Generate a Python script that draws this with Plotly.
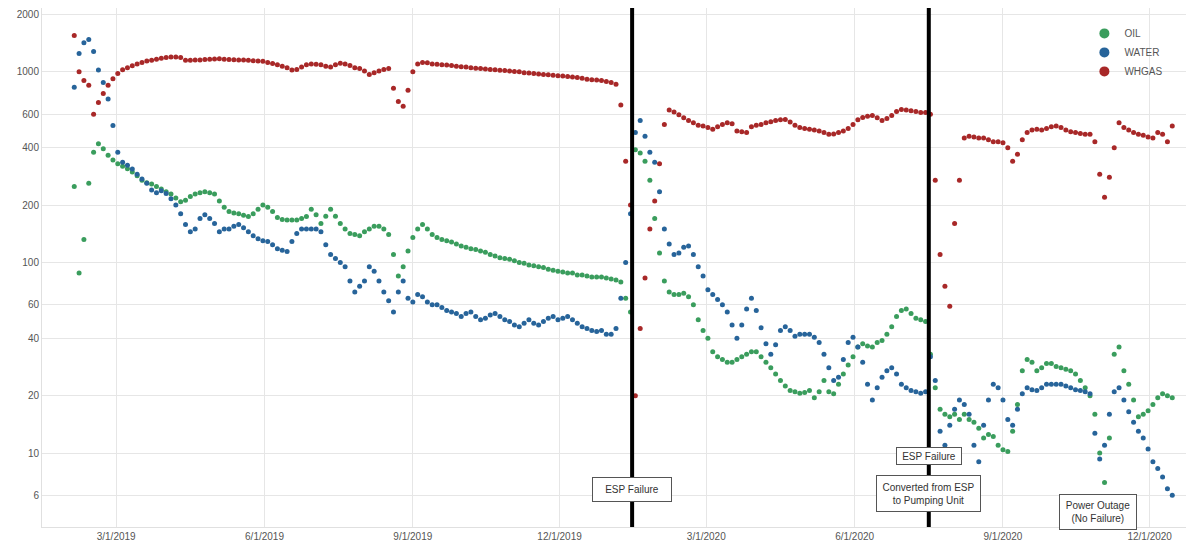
import pandas as pd
import plotly.graph_objects as go

# ---- data (3-day samples starting 2019-02-03) ----
start_date = "2019-02-03"
step_days = 3

oil = [
    250, 88, 132, 260, 379, 420, 395, 365, 345, 330,
    320, 310, 298, 285, 270, 262, 258, 250, 243, 235,
    229, 218, 208, 212, 222, 229, 232, 235, 232, 229,
    210, 195, 185, 182, 180, 177, 174, 180, 190, 200,
    195, 185, 172, 168, 167, 167, 167, 170, 174, 190,
    178, 160, 175, 190, 175, 160, 150, 142, 140, 138,
    145, 150, 155, 155, 150, 140, 110, 85, 95, 115,
    135, 150, 158, 150, 140, 135, 132, 130, 128, 125,
    122, 120, 118, 117, 115, 113, 110, 108, 106, 105,
    104, 102, 100, 99, 97, 96, 95, 94, 92, 91,
    90, 89, 88, 88, 86, 86, 85, 84, 84, 84,
    83, 82, 81, 79, 65, 55, 390, 375, 340, 270,
    170, 112, 80, 70, 68, 68, 69, 66, 60, 50,
    44, 40, 34, 32, 31, 30, 30, 31, 32, 33,
    34, 34, 32, 30, 28, 26, 24, 22.5, 21.3, 21,
    20.6, 20.8, 21.3, 19.5, 21, 24, 21, 20.5, 23, 26,
    29, 32, 36, 37.5, 36.5, 36, 38, 39, 42, 46,
    52, 56, 57, 54, 51, 50, 49, 33, 22, 17,
    16, 15.5, 16, 15, 16, 15, 14.5, 13.5, 12, 12.5,
    12.2, 11, 10.4, 10.2, 13, 18, 27, 31, 30, 27,
    28, 29.5, 29.5, 28.5, 28, 27.5, 27, 26, 24, 22,
    20, 16, 10, 7, 12, 33, 36, 27, 23, 19,
    15.5, 16, 16.7, 18, 19.5, 20.5, 20, 19.5,
]

water = [
    830, 1250, 1420, 1480, 1280, 1024, 880, 720, 523, 379,
    336, 324, 309, 290, 274, 260, 240, 232, 238, 230,
    216, 200, 180, 158, 145, 150, 170, 178, 170, 160,
    145, 150, 150, 155, 158, 152, 145, 138, 133, 130,
    129, 124, 118, 116, 114, 129, 142, 150, 150, 150,
    150, 145, 124, 110, 105, 100, 95, 80, 70, 75,
    80, 95, 90, 80, 70, 63, 55, 70, 80, 65,
    62, 68, 66, 62, 60, 60, 58, 56, 55, 54,
    52, 54, 55, 52, 50, 51, 53, 54, 52, 50,
    49, 47, 46, 48, 50, 48, 47, 49, 51, 52,
    50, 51, 52, 50, 48, 46, 45, 44, 43.5, 44,
    42, 42, 45, 65, 100, 180, 480, 555, 460, 379,
    336, 235, 150, 125, 110, 112, 120, 122, 110, 95,
    85, 72, 68, 64, 60, 55, 47, 40, 47, 57,
    65, 56, 45.5, 37.5, 33, 37, 44, 46, 44, 41,
    42, 42, 42, 40.5, 38, 33, 28, 24, 25, 31,
    38, 40.5, 36, 30, 23, 19, 22, 25, 27, 28,
    26, 23, 22, 21.3, 21, 20.6, 21, 32, 24, 13,
    11, 14, 17, 19, 18, 16, 11, 9, 14, 19,
    23, 22, 19, 15, 14, 17, 20.5, 22, 21.5, 21.3,
    22, 23, 23, 23, 23, 22.5, 22, 21.5, 21.3, 21,
    20.5, 12.7, 9.3, 11, 16, 21, 22, 19, 16.5, 14.5,
    13, 12, 10.5, 9, 8.3, 7.5, 6.5, 6,
]

whgas = [
    1550, 1000, 900, 850, 600, 690, 770, 850, 920, 980,
    1025, 1050, 1075, 1100, 1120, 1140, 1150, 1165, 1180, 1190,
    1197, 1195, 1190, 1150, 1150, 1155, 1155, 1160, 1165, 1168,
    1170, 1165, 1160, 1158, 1155, 1155, 1150, 1145, 1140, 1135,
    1120, 1105, 1090, 1070, 1050, 1024, 1030, 1060, 1088, 1100,
    1095, 1088, 1070, 1060, 1090, 1110, 1100, 1080, 1050, 1040,
    1010, 970, 990, 1010, 1030, 1040, 820, 700, 660, 800,
    1000, 1100, 1120, 1115, 1100, 1095, 1090, 1085, 1080, 1070,
    1065, 1060, 1050, 1045, 1040, 1035, 1030, 1025, 1020, 1015,
    1010, 1005, 1000, 990, 985, 980, 975, 970, 965, 960,
    955, 950, 945, 940, 935, 925, 915, 910, 905, 900,
    890, 880, 860, 670, 340, 200, 20, 45, 83, 150,
    210, 330, 530, 630, 615, 595, 575, 555, 540, 525,
    520, 510, 500, 515, 530, 540, 535, 490, 485, 480,
    515, 525, 530, 540, 548, 555, 560, 562, 545, 525,
    511, 505, 500, 495, 490, 480, 470, 472, 480, 490,
    505, 530, 560, 576, 585, 590, 575, 555, 570, 590,
    620, 634, 630, 626, 620, 612, 612, 600, 270, 110,
    75, 59, 160, 270, 450, 460, 455, 450, 450, 440,
    430, 430, 425, 400, 340, 370, 440, 480, 495, 500,
    495, 505, 515, 520, 510, 495, 485, 480, 475, 470,
    470, 430, 290, 220, 280, 400, 540, 510, 495, 480,
    470, 465, 455, 450, 480, 470, 430, 520,
]

series_names = ["OIL", "WATER", "WHGAS"]
series_colors = ["#3a9d5d", "#27649a", "#a82828"]

tick_dates = ["2019-03-01", "2019-06-01", "2019-09-01", "2019-12-01",
              "2020-03-01", "2020-06-01", "2020-09-01", "2020-12-01"]
tick_labels = ["3/1/2019", "6/1/2019", "9/1/2019", "12/1/2019",
               "3/1/2020", "6/1/2020", "9/1/2020", "12/1/2020"]
y_ticks = [6, 10, 20, 40, 60, 100, 200, 400, 600, 1000, 2000]
y_labels = ["6", "10", "20", "40", "60", "100", "200", "400", "600", "1000", "2000"]

events = ["2020-01-15", "2020-07-17"]
notes = [
    ("2020-01-15", 0.0713, "ESP Failure", 74, 19),
    ("2020-07-17", 0.137, "ESP Failure", 60, 12),
    ("2020-07-17", 0.0636, "Converted from ESP<br>to Pumping Unit", 99, 31),
    ("2020-10-30", 0.029, "Power Outage<br>(No Failure)", 72, 30),
]

n = len(oil)
dates = pd.date_range(start_date, periods=n, freq=f"{step_days}D")

fig = go.Figure()
for name, vals, col in zip(series_names, [oil, water, whgas], series_colors):
    fig.add_trace(go.Scatter(
        x=dates[:len(vals)], y=vals, mode="markers", name=name,
        marker=dict(color=col, size=5, line=dict(width=0)),
        showlegend=False, hoverinfo="x+y+name"))
for name, col in zip(series_names, series_colors):
    fig.add_trace(go.Scatter(
        x=[None], y=[None], mode="markers", name=name,
        marker=dict(color=col, size=10), showlegend=True))

for d in events:
    fig.add_shape(type="line", xref="x", yref="paper", x0=d, x1=d, y0=0, y1=1,
                  line=dict(color="black", width=4), layer="above")

for d, yp, txt, w, h in notes:
    fig.add_annotation(x=d, xref="x", y=yp, yref="paper", text=txt,
                       showarrow=False, width=w, height=h, borderpad=2,
                       bgcolor="white", bordercolor="#555", borderwidth=1,
                       font=dict(size=10, color="#333", family="Liberation Sans"),
                       xanchor="center", yanchor="middle")

# page has an 8px body margin, so the figure is sized/offset to compensate
fig.update_layout(
    width=1186, height=545,
    margin=dict(l=34, r=4, t=0, b=26, autoexpand=False),
    plot_bgcolor="white", paper_bgcolor="white",
    font=dict(family="Liberation Sans", size=10, color="#555"),
    legend=dict(x=0.908, y=0.979, xanchor="left", yanchor="top",
                bgcolor="rgba(0,0,0,0)", font=dict(size=10, color="#555"),
                itemsizing="trace", tracegroupgap=0),
    showlegend=True,
)
fig.update_xaxes(
    type="date", range=["2019-01-14", "2020-12-26"],
    tickvals=tick_dates, ticktext=tick_labels, automargin=False,
    ticklabeloverflow="allow",
    showgrid=True, gridcolor="#e6e6e6", gridwidth=1,
    showline=True, linecolor="#e0e0e0", mirror=True, zeroline=False,
    tickfont=dict(size=10, color="#555"),
)
fig.update_yaxes(
    type="log", range=[0.6122, 3.335],
    tickvals=y_ticks, ticktext=y_labels, automargin=False,
    ticklabeloverflow="allow",
    showgrid=True, gridcolor="#e6e6e6", gridwidth=1,
    showline=True, linecolor="#e0e0e0", mirror=True, zeroline=False,
    tickfont=dict(size=10, color="#555"), ticklen=0, ticks="",
)

fig.write_html("out.html")
